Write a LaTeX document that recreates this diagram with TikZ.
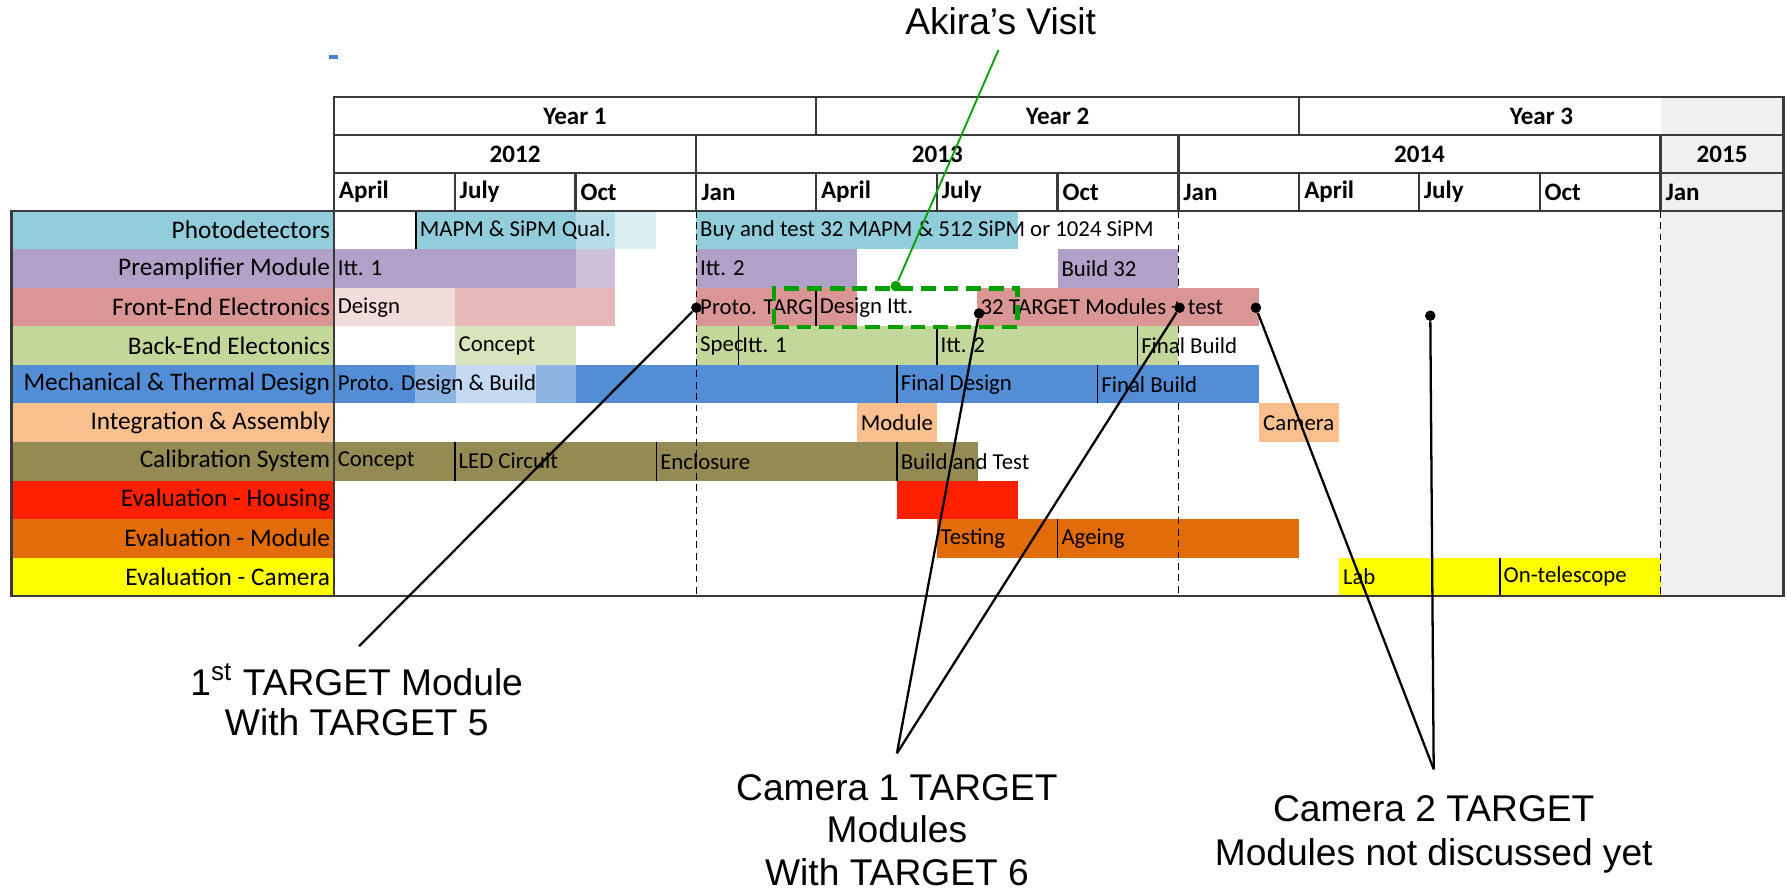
\documentclass[tikz,border=0pt]{standalone}
\usepackage{fontspec}
\setmainfont{Carlito}
\newfontfamily\notefont{Liberation Sans}

\definecolor{photo}{HTML}{92CDDC}
\definecolor{photolt}{HTML}{B7DEE8}
\definecolor{photoxlt}{HTML}{DAEEF3}
\definecolor{preamp}{HTML}{B1A0C7}
\definecolor{preamplt}{HTML}{CCC0DA}
\definecolor{fee}{HTML}{DA9694}
\definecolor{feelt}{HTML}{E6B8B7}
\definecolor{feexlt}{HTML}{F2DCDB}
\definecolor{bee}{HTML}{C4D79B}
\definecolor{beelt}{HTML}{D8E4BC}
\definecolor{mech}{HTML}{538DD5}
\definecolor{mechmid}{HTML}{8DB4E2}
\definecolor{mechlt}{HTML}{C5D9F1}
\definecolor{integ}{HTML}{FABF8F}
\definecolor{calib}{HTML}{948A54}
\definecolor{evhous}{HTML}{FF2000}
\definecolor{evmod}{HTML}{E26B0A}
\definecolor{evcam}{HTML}{FFFF00}
\definecolor{future}{HTML}{F0F0F0}
\definecolor{gridgray}{HTML}{3A3A3A}
\definecolor{visitgreen}{HTML}{00A000}
\definecolor{markblue}{HTML}{4A7FD6}

\tikzset{
  gridline/.style={draw=gridgray, line width=1pt},
  rowlabel/.style={anchor=east, inner sep=0pt, font=\fontsize{11.1}{13}\selectfont},
  bartext/.style={anchor=west, inner sep=0pt, font=\fontsize{10}{12}\selectfont},
  yeartext/.style={inner sep=0pt, font=\bfseries\fontsize{11}{13}\selectfont},
  monthtext/.style={anchor=west, inner sep=0pt, font=\bfseries\fontsize{11}{13}\selectfont},
  divider/.style={line width=0.7pt},
  yearmark/.style={line width=0.6pt, dash pattern=on 3pt off 2pt},
  pin/.style={circle, fill=black, inner sep=0pt, minimum size=4.6pt},
  pinline/.style={line width=1pt},
  note/.style={anchor=base, inner sep=0pt, font=\notefont\fontsize{16.3}{19}\selectfont},
  visitbox/.style={draw=visitgreen, line width=2pt, dash pattern=on 6.5pt off 3.5pt,
    minimum width=107pt, minimum height=17pt, inner sep=0pt},
}

\begin{document}
\begin{tikzpicture}[x=0.5pt,y=-0.5pt]
    \useasboundingbox (0,0) rectangle (1568,784);
    \fill[markblue] (289,48.5) rectangle (297,52);
    % later months, greyed out
    \fill[future] (1457,85) rectangle (1565,523);
    % task column
    \fill[photo] (10,185) rectangle (293,218.8);
    \fill[preamp] (10,218.8) rectangle (293,252.6);
    \fill[fee] (10,252.6) rectangle (293,286.4);
    \fill[bee] (10,286.4) rectangle (293,320.2);
    \fill[mech] (10,320.2) rectangle (293,354);
    \fill[integ] (10,354) rectangle (293,387.8);
    \fill[calib] (10,387.8) rectangle (293,421.6);
    \fill[evhous] (10,421.6) rectangle (293,455.4);
    \fill[evmod] (10,455.4) rectangle (293,489.2);
    \fill[evcam] (10,489.2) rectangle (293,523);
    % bars
    \fill[photo] (365,185) rectangle (505,218.8);
    \fill[photolt] (505,185) rectangle (540,218.8);
    \fill[photoxlt] (540,185) rectangle (576,218.8);
    \fill[photo] (611,185) rectangle (893,218.8);
    \fill[preamp] (293,218.8) rectangle (505,252.6);
    \fill[preamplt] (505,218.8) rectangle (540,252.6);
    \fill[preamp] (611,218.8) rectangle (752,252.6);
    \fill[preamp] (928,218.8) rectangle (1034,252.6);
    \fill[feexlt] (293,252.6) rectangle (399,286.4);
    \fill[feelt] (399,252.6) rectangle (540,286.4);
    \fill[fee] (611,252.6) rectangle (752,286.4);
    \fill[fee] (857,252.6) rectangle (1105,286.4);
    \fill[beelt] (399,286.4) rectangle (505,320.2);
    \fill[bee] (611,286.4) rectangle (1034,320.2);
    \fill[mech] (293,320.2) rectangle (1105,354);
    \fill[mechmid] (364,320.2) rectangle (400,354);
    \fill[mechlt] (400,320.2) rectangle (470,354);
    \fill[mechmid] (470,320.2) rectangle (505,354);
    \fill[integ] (752,354) rectangle (822,387.8);
    \fill[integ] (1105,354) rectangle (1175,387.8);
    \fill[calib] (293,387.8) rectangle (858,421.6);
    \fill[evhous] (787,421.6) rectangle (893,455.4);
    \fill[evmod] (822,455.4) rectangle (1140,489.2);
    \fill[evcam] (1175,489.2) rectangle (1457,523);
    % cell dividers inside the bars
    \draw[divider] (365,185) -- (365,218.8);
    \draw[divider] (716,252.6) -- (716,286.4);
    \draw[divider] (648,286.4) -- (648,320.2) (822,286.4) -- (822,320.2) (998,286.4) -- (998,320.2);
    \draw[divider] (787,320.2) -- (787,354) (963,320.2) -- (963,354);
    \draw[divider] (399,387.8) -- (399,421.6) (576,387.8) -- (576,421.6) (787,387.8) -- (787,421.6);
    \draw[divider] (928,455.4) -- (928,489.2);
    \draw[divider] (1316,489.2) -- (1316,523);
    % year boundaries
    \draw[yearmark] (611,185) -- (611,523);
    \draw[yearmark] (1034,185) -- (1034,252.6) (1034,286.4) -- (1034,320.2) (1034,354) -- (1034,523);
    \draw[yearmark] (1457,185) -- (1457,523);
    % table frame and header
    \draw[gridline] (10,185) rectangle (1565,523);
    \draw[gridline] (293,185) -- (293,523);
    \draw[gridline] (293,85) rectangle (1565,185);
    \draw[gridline] (293,118.5) -- (1565,118.5) (293,152) -- (1565,152);
    \draw[gridline] (716,85) -- (716,118.5) (1140,85) -- (1140,118.5);
    \draw[gridline] (611,118.5) -- (611,152) (1034,118.5) -- (1034,152) (1457,118.5) -- (1457,152);
    \draw[gridline] (399,152) -- (399,185) (505,152) -- (505,185) (611,152) -- (611,185)
      (716,152) -- (716,185) (822,152) -- (822,185) (928,152) -- (928,185)
      (1034,152) -- (1034,185) (1140,152) -- (1140,185) (1245,152) -- (1245,185)
      (1351,152) -- (1351,185) (1457,152) -- (1457,185);
    % header text
    \node[yeartext] (yearone) at (504.5,101.75) {Year 1};
    \node[yeartext] (yeartwo) at (928,101.75) {Year 2};
    \node[yeartext] (yearthree) at (1352.5,101.75) {Year 3};
    \node[yeartext] (cal12) at (452,135.25) {2012};
    \node[yeartext] (cal13) at (822.5,135.25) {2013};
    \node[yeartext] (cal14) at (1245.5,135.25) {2014};
    \node[yeartext] (cal15) at (1511,135.25) {2015};
    \node[monthtext] (apr12) at (297,168.5) {April};
    \node[monthtext] (jul12) at (403,168.5) {July};
    \node[monthtext] (oct12) at (509,168.5) {Oct};
    \node[monthtext] (jan13) at (615,168.5) {Jan};
    \node[monthtext] (apr13) at (720,168.5) {April};
    \node[monthtext] (jul13) at (826,168.5) {July};
    \node[monthtext] (oct13) at (932,168.5) {Oct};
    \node[monthtext] (jan14) at (1038,168.5) {Jan};
    \node[monthtext] (apr14) at (1144,168.5) {April};
    \node[monthtext] (jul14) at (1249,168.5) {July};
    \node[monthtext] (oct14) at (1355,168.5) {Oct};
    \node[monthtext] (jan15) at (1461,168.5) {Jan};
    % task names
    \node[rowlabel] (lphoto) at (290,201.9) {Photodetectors};
    \node[rowlabel] (lpreamp) at (290,235.7) {Preamplifier Module};
    \node[rowlabel] (lfee) at (290,269.5) {Front-End Electronics};
    \node[rowlabel] (lbee) at (290,303.3) {Back-End Electonics};
    \node[rowlabel] (lmech) at (290,337.1) {Mechanical \& Thermal Design};
    \node[rowlabel] (linteg) at (290,370.9) {Integration \& Assembly};
    \node[rowlabel] (lcalib) at (290,404.7) {Calibration System};
    \node[rowlabel] (levhous) at (290,438.5) {Evaluation - Housing};
    \node[rowlabel] (levmod) at (290,472.3) {Evaluation - Module};
    \node[rowlabel] (levcam) at (290,506.1) {Evaluation - Camera};
    % bar text
    \node[bartext] (bqual) at (368,201.9) {MAPM \& SiPM Qual.};
    \node[bartext] (bbuy) at (614,201.9) {Buy and test 32 MAPM \& 512 SiPM or 1024 SiPM};
    \node[bartext] (bittone) at (296,235.7) {Itt. 1};
    \node[bartext] (bitttwo) at (614,235.7) {Itt. 2};
    \node[bartext] (bbuild) at (931,235.7) {Build 32};
    \node[bartext] (bdeisgn) at (296,269.5) {Deisgn};
    \node[bartext] (bproto) at (614,269.5) {Proto. TARG};
    \node[bartext] (bdesign) at (719,269.5) {Design Itt.};
    \node[bartext] (bmodules) at (860,269.5) {32 TARGET Modules + test};
    \node[bartext] (bconcept) at (402,303.3) {Concept};
    \node[bartext] (bspec) at (614,303.3) {Spec};
    \node[bartext] (bbeone) at (651,303.3) {Itt. 1};
    \node[bartext] (bbetwo) at (825,303.3) {Itt. 2};
    \node[bartext] (bbefinal) at (1001,303.3) {Final Build};
    \node[bartext] (bprotomech) at (296,337.1) {Proto. Design \& Build};
    \node[bartext] (bfinaldes) at (790,337.1) {Final Design};
    \node[bartext] (bfinalbld) at (966,337.1) {Final Build};
    \node[bartext] (bmodule) at (755,370.9) {Module};
    \node[bartext] (bcamera) at (1108,370.9) {Camera};
    \node[bartext] (bcalconcept) at (296,404.7) {Concept};
    \node[bartext] (bled) at (402,404.7) {LED Circuit};
    \node[bartext] (bencl) at (579,404.7) {Enclosure};
    \node[bartext] (bbuildtest) at (790,404.7) {Build and Test};
    \node[bartext] (btesting) at (825,472.3) {Testing};
    \node[bartext] (bageing) at (931,472.3) {Ageing};
    \node[bartext] (blab) at (1178,506.1) {Lab};
    \node[bartext] (bonscope) at (1319,506.1) {On-telescope};
    % visit window
    \node[visitbox] (visit) at (786,270) {};
    \node[pin, fill=visitgreen] (visitdot) at (visit.north) {};
    \node[note] (akiratxt) at (878,30.5) {Akira’s Visit};
    \coordinate (akirafoot) at (876,44);
    \draw[visitgreen, line width=0.8pt] (visitdot) -- (akirafoot);
    % module call-outs
    \node[pin] (pfirst) at (611,270) {};
    \node[pin] (pcamone) at (859,275) {};
    \node[pin] (pcamoneb) at (1035,270) {};
    \node[pin] (pcamtwo) at (1102,270) {};
    \node[pin] (pcamtwob) at (1255,277) {};
    \coordinate (tipfirst) at (315,567);
    \coordinate (tipcamone) at (787,661);
    \coordinate (tipcamtwo) at (1258,675);
    \draw[pinline] (pfirst) -- (tipfirst);
    \draw[pinline] (pcamone) -- (tipcamone);
    \draw[pinline] (pcamoneb) -- (tipcamone);
    \draw[pinline] (pcamtwo) -- (tipcamtwo);
    \draw[pinline] (pcamtwob) -- (tipcamtwo);
    \node[note] (firsttxt) at (313,610) {1\textsuperscript{st} TARGET Module};
    \node[note] (firsttxtb) at (313,645) {With TARGET 5};
    \node[note] (camonetxt) at (787,702) {Camera 1 TARGET};
    \node[note] (camonetxtb) at (787,739.5) {Modules};
    \node[note] (camonetxtc) at (787,777) {With TARGET 6};
    \node[note] (camtwotxt) at (1258,721) {Camera 2 TARGET};
    \node[note] (camtwotxtb) at (1258,759) {Modules not discussed yet};
\end{tikzpicture}
\end{document}
